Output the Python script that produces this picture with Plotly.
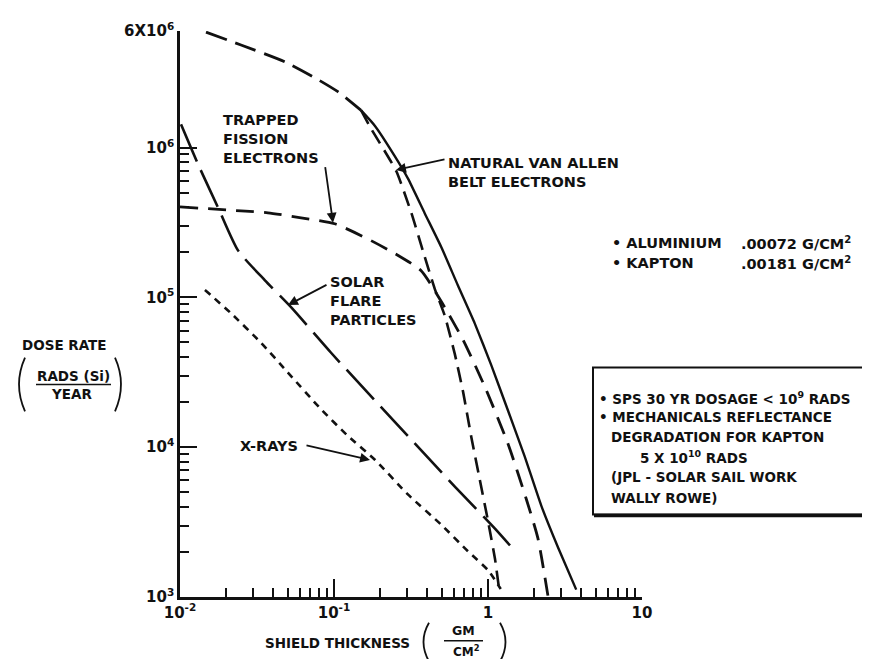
import plotly.graph_objects as go

# ---------------- data ----------------
belt_top_x = [0.01475, 0.0249, 0.0481, 0.0753, 0.106, 0.150]
belt_top_y = [5.9e6, 4.84e6, 3.73e6, 2.92e6, 2.36e6, 1.77e6]

belt_solid_x = [0.150, 0.184, 0.248, 0.303, 0.388, 0.498, 0.638, 0.820, 1.05, 1.35, 1.73, 2.22, 2.85, 3.74]
belt_solid_y = [1.77e6, 1.40e6, 8.77e5, 6.18e5, 3.65e5, 2.16e5, 1.20e5, 6.71e4, 3.53e4, 1.75e4, 8.69e3, 4.06e3, 2.14e3, 1.12e3]

belt_dash_x = [0.150, 0.174, 0.254, 0.318, 0.378, 0.451, 0.524, 0.608, 0.689, 0.780, 0.883, 1.00, 1.11, 1.19]
belt_dash_y = [1.77e6, 1.34e6, 6.95e5, 3.66e5, 2.04e5, 1.14e5, 7.54e4, 4.21e4, 2.34e4, 1.16e4, 6.12e3, 3.22e3, 1.80e3, 1.06e3]

fission_x = [0.0100, 0.0249, 0.0372, 0.0611, 0.101, 0.159, 0.249, 0.367, 0.495, 0.689, 0.970, 1.35, 1.77, 2.11, 2.45]
fission_y = [4.02e5, 3.78e5, 3.67e5, 3.40e5, 3.10e5, 2.51e5, 1.96e5, 1.51e5, 9.45e4, 5.20e4, 2.43e4, 1.05e4, 4.53e3, 2.46e3, 1.02e3]

solar_x = [0.01015, 0.0131, 0.0177, 0.0238, 0.0356, 0.0526, 0.0957, 0.249, 0.611, 1.11, 1.50]
solar_y = [1.43e6, 7.74e5, 3.96e5, 2.06e5, 1.30e5, 8.61e4, 4.27e4, 1.47e4, 5.44e3, 2.86e3, 2.02e3]

xray_x = [0.01452, 0.0214, 0.0336, 0.0502, 0.0824, 0.123, 0.185, 0.303, 0.495, 0.741, 1.00, 1.21]
xray_y = [1.12e5, 7.85e4, 4.97e4, 3.15e4, 1.79e4, 1.19e4, 8.22e3, 4.82e3, 3.05e3, 2.02e3, 1.51e3, 1.13e3]

x_tick_vals = [0.01, 0.1, 1, 10]
x_tick_text = ["10<sup>-2</sup>", "10<sup>-1</sup>", "1", "10"]
y_tick_vals = [1e3, 1e4, 1e5, 1e6, 6e6]
y_tick_text = ["10<sup>3</sup>", "10<sup>4</sup>", "10<sup>5</sup>", "10<sup>6</sup>", "6X10<sup>6</sup>"]
x_minor = [m * 10.0 ** e for e in (-2, -1, 0) for m in range(2, 10)]
y_minor = [m * 10.0 ** e for e in (3, 4, 5) for m in range(2, 10)]

# ---------------- layout geometry ----------------
W, H = 870, 659
L, R, T, B = 172, 634, 19, 589
FONT = "DejaVu Sans"
INK = "#111111"


def P(X, Y):
    return (X - L) / (R - L), (B - Y) / (B - T)


fig = go.Figure()


def curve(x, y, dash, width=2.6, smoothing=0.6):
    fig.add_trace(go.Scatter(x=x, y=y, mode="lines", showlegend=False,
                             line=dict(color=INK, width=width, dash=dash,
                                       shape="spline", smoothing=smoothing),
                             hoverinfo="skip"))


curve(belt_top_x, belt_top_y, "22px,9px", 2.8)
curve(belt_solid_x, belt_solid_y, "solid", 2.4, 0.45)
curve(belt_dash_x, belt_dash_y, "15px,8px", 2.6, 0.45)
curve(fission_x, fission_y, "18px,10px", 2.8)
curve(solar_x, solar_y, "40px,10px", 2.6)
curve(xray_x, xray_y, "7px,6px", 2.6)

ann = []


def text(t, X, Y, size=14.5, anchor="left"):
    px, py = P(X, Y)
    ann.append(dict(text=t, x=px, y=py, xref="paper", yref="paper", showarrow=False,
                    xanchor=anchor, yanchor="middle", align=anchor,
                    font=dict(family=FONT, size=size, color=INK, weight="bold")))


def arrow(Xt, Yt, Xs, Ys):
    px, py = P(Xt, Yt)
    ann.append(dict(text="", x=px, y=py, xref="paper", yref="paper", showarrow=True,
                    ax=Xs - Xt, ay=Ys - Yt, arrowhead=2, arrowsize=1.1, arrowwidth=1.8,
                    arrowcolor=INK))


text("TRAPPED<br>FISSION<br>ELECTRONS", 213, 128)
text("NATURAL VAN ALLEN<br>BELT ELECTRONS", 438, 161)
text("SOLAR<br>FLARE<br>PARTICLES", 320, 291)
text("X-RAYS", 230, 437)
text("• ALUMINIUM", 602, 232)
text("• KAPTON", 602, 253)
text(".00072 G/CM<sup>2</sup>", 731, 232)
text(".00181 G/CM<sup>2</sup>", 731, 253)
text("• SPS 30 YR DOSAGE &lt; 10<sup>9</sup> RADS", 589, 389, 13.5)
text("• MECHANICALS REFLECTANCE", 589, 408, 13.5)
text("DEGRADATION FOR KAPTON", 601, 428, 13.5)
text("5 X 10<sup>10</sup> RADS", 630, 448, 13.5)
text("(JPL - SOLAR SAIL WORK", 601, 468, 13.5)
text("WALLY ROWE)", 601, 489, 13.5)

text("DOSE RATE", 56, 335, 13.5, "center")
text("RADS (Si)", 65, 366, 13.5, "center")
text("YEAR", 63, 385, 13.5, "center")
text("SHIELD THICKNESS", 329, 635, 13.5, "center")
text("GM", 455, 623, 12.5, "center")
text("CM<sup>2</sup>", 458, 643, 12, "center")

arrow(325, 212, 317, 155)
arrow(388, 159, 438, 148)
arrow(280, 295, 320, 274)
arrow(362, 451, 297, 436)

shapes = []


def seg(X0, Y0, X1, Y1, w=1.8):
    x0, y0 = P(X0, Y0)
    x1, y1 = P(X1, Y1)
    shapes.append(dict(type="line", xref="paper", yref="paper", x0=x0, y0=y0, x1=x1, y1=y1,
                       line=dict(color=INK, width=w)))


def paren(X0, Y0, Xc, Yc, X1, Y1, w=1.8):
    a, b = P(X0, Y0)
    c, d = P(Xc, Yc)
    e, f = P(X1, Y1)
    shapes.append(dict(type="path", xref="paper", yref="paper",
                       path=f"M {a},{b} Q {c},{d} {e},{f}",
                       line=dict(color=INK, width=w)))


# y-title fraction
seg(28, 375, 103, 375, 1.6)
paren(17, 348, 5, 375, 17, 402)
paren(107, 348, 119, 375, 107, 402)
# x-title fraction
seg(436, 633, 475, 633, 1.6)
paren(421, 615, 410, 634, 421, 654)
paren(492, 615, 503, 634, 492, 654)

# notes box
bx0, by0 = P(585, 506)
bx1, by1 = P(866, 358)
shapes.append(dict(type="rect", xref="paper", yref="paper", x0=bx0, y0=by0, x1=bx1, y1=by1,
                   line=dict(color=INK, width=2)))
seg(586, 507, 867, 507, 3.5)
seg(867, 359, 867, 507, 3.5)

tickfont = dict(family=FONT, size=15, color=INK, weight="bold")

fig.update_layout(
    width=W, height=H,
    margin=dict(l=L, r=W - R, t=T, b=H - B),
    paper_bgcolor="white", plot_bgcolor="white",
    annotations=ann, shapes=shapes,
    xaxis=dict(type="log", range=[-2, 1], tickmode="array", tickvals=x_tick_vals, ticktext=x_tick_text,
               ticks="inside", ticklen=18, tickwidth=2, tickcolor=INK,
               showline=True, linewidth=2.5, linecolor=INK, showgrid=False, zeroline=False,
               tickfont=tickfont,
               minor=dict(tickmode="array", tickvals=x_minor, ticks="inside", ticklen=9,
                          tickwidth=1.6, tickcolor=INK, showgrid=False)),
    yaxis=dict(type="log", range=[3, 6.778151], tickmode="array", tickvals=y_tick_vals, ticktext=y_tick_text,
               ticks="inside", ticklen=17, tickwidth=2, tickcolor=INK,
               showline=True, linewidth=2.5, linecolor=INK, showgrid=False, zeroline=False,
               tickfont=tickfont,
               minor=dict(tickmode="array", tickvals=y_minor, ticks="inside", ticklen=9,
                          tickwidth=1.6, tickcolor=INK, showgrid=False)),
)

fig.write_html("out.html")
